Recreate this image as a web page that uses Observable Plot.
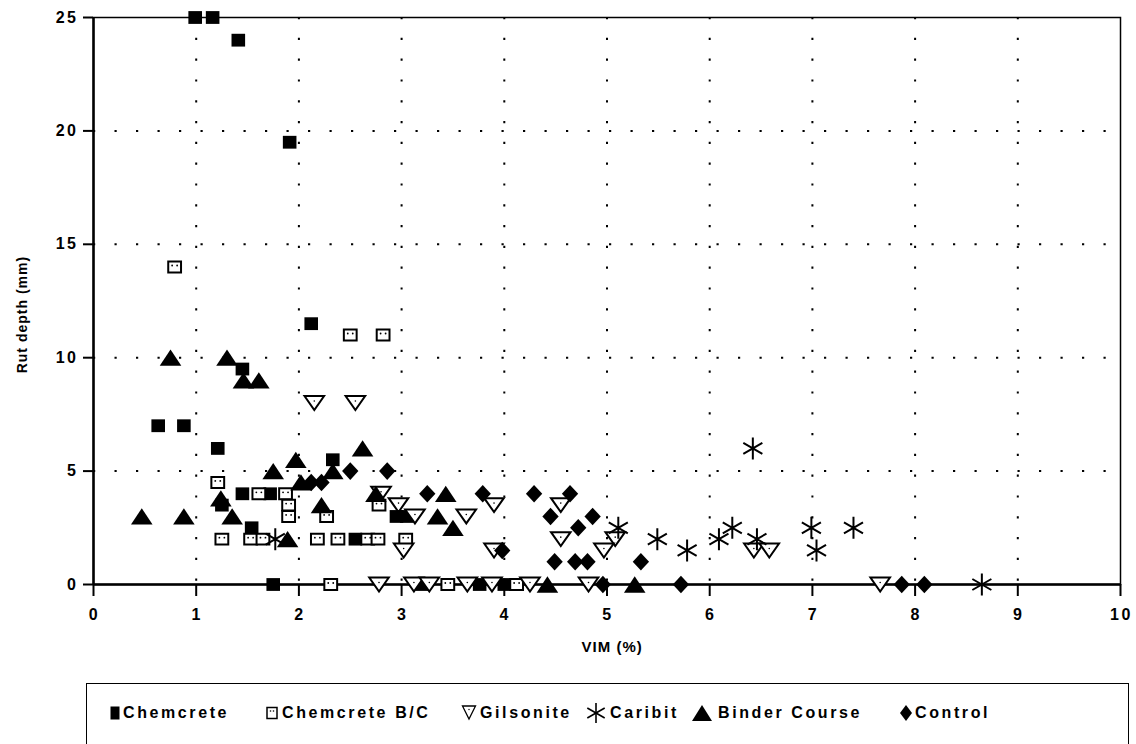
<!DOCTYPE html>
<html>
<head>
<meta charset="utf-8">
<script src="https://cdn.jsdelivr.net/npm/d3@7"></script>
<script src="https://cdn.jsdelivr.net/npm/@observablehq/plot@0.6"></script>
<style>
  html, body { margin: 0; padding: 0; background: #fff; }
  body { width: 1136px; height: 744px; position: relative; overflow: hidden; font-family: "Liberation Sans", Arial, sans-serif; }
  #chart { position: absolute; left: 0; top: 0; }
  #chart svg text { font-weight: bold; }
  #chart .ticklab text { letter-spacing: 2.5px; }
  #chart .axtitle text { letter-spacing: 1px; }
  #legend { position: absolute; left: 86px; top: 683px; width: 1043px; height: 64px; border: 1.5px solid #000; box-sizing: border-box; }
  .icon { position: absolute; top: 0; height: 58px; display: flex; align-items: center; }
  .label { position: absolute; top: 0; height: 58px; display: flex; align-items: center; font-weight: bold; font-size: 16px; letter-spacing: 2.6px; color: #000; white-space: nowrap; }
  .icon svg { display: block; }
</style>
</head>
<body>
<div id="chart"></div>
<div id="legend"></div>
<script>
// ---- Data ----
const seriesNames = ["Chemcrete", "Chemcrete B/C", "Gilsonite", "Caribit", "Binder Course", "Control"];

const chemcreteX = [0.99, 1.16, 1.41, 1.91, 2.12, 1.45, 0.63, 0.88, 1.21, 2.33, 1.45, 1.72, 1.25, 1.54, 2.55, 2.95, 3.05, 1.75, 3.2, 3.76, 4.0];
const chemcreteY = [25, 25, 24, 19.5, 11.5, 9.5, 7, 7, 6, 5.5, 4, 4, 3.5, 2.5, 2, 3, 3, 0, 0, 0, 0];

const chemcreteBCX = [0.79, 2.5, 2.82, 1.21, 1.61, 1.87, 1.9, 1.9, 2.27, 2.78, 1.25, 1.53, 1.65, 2.18, 2.38, 2.67, 2.77, 3.04, 2.31, 3.45, 4.12];
const chemcreteBCY = [14, 11, 11, 4.5, 4, 4, 3.5, 3, 3, 3.5, 2, 2, 2, 2, 2, 2, 2, 2, 0, 0, 0];

const gilsoniteX = [2.15, 2.55, 2.8, 2.97, 3.13, 3.63, 3.9, 4.55, 4.55, 5.08, 3.02, 3.9, 4.97, 6.43, 6.58, 2.78, 3.12, 3.27, 3.64, 3.88, 4.25, 4.82, 7.66];
const gilsoniteY = [8, 8, 4, 3.5, 3, 3, 3.5, 3.5, 2, 2, 1.5, 1.5, 1.5, 1.5, 1.5, 0, 0, 0, 0, 0, 0, 0, 0];

const caribitX = [6.42, 1.77, 5.11, 5.49, 5.78, 6.09, 6.22, 6.46, 6.99, 7.04, 7.4, 8.65];
const caribitY = [6, 2, 2.5, 2, 1.5, 2, 2.5, 2, 2.5, 1.5, 2.5, 0];

const binderX = [0.75, 1.3, 1.46, 1.61, 0.47, 0.88, 1.24, 1.35, 1.75, 1.97, 2.33, 2.62, 2.02, 2.22, 1.89, 2.75, 3.43, 3.35, 3.5, 4.42, 5.27];
const binderY = [10, 10, 9, 9, 3, 3, 3.8, 3, 5, 5.5, 5, 6, 4.5, 3.5, 2, 4, 4, 3, 2.5, 0, 0];

const controlX = [2.12, 2.22, 2.5, 2.86, 3.25, 3.79, 4.29, 4.64, 4.45, 4.86, 4.72, 3.98, 4.49, 4.69, 4.81, 5.33, 4.96, 5.72, 7.87, 8.09];
const controlY = [4.5, 4.5, 5, 5, 4, 4, 4, 4, 3, 3, 2.5, 1.5, 1, 1, 1, 1, 0, 0, 0, 0];

const xTicks = [0, 1, 2, 3, 4, 5, 6, 7, 8, 9, 10];
const yTicks = [0, 5, 10, 15, 20, 25];
const xLabel = "VIM (%)";
const yLabel = "Rut depth (mm)";

// ---- Build rows ----
function rows(xs, ys, s) { return xs.map((x, i) => ({x, y: ys[i], series: s})); }
const dChem = rows(chemcreteX, chemcreteY, seriesNames[0]);
const dBC = rows(chemcreteBCX, chemcreteBCY, seriesNames[1]);
const dGil = rows(gilsoniteX, gilsoniteY, seriesNames[2]);
const dCar = rows(caribitX, caribitY, seriesNames[3]);
const dBin = rows(binderX, binderY, seriesNames[4]);
const dCon = rows(controlX, controlY, seriesNames[5]);

// ---- Custom symbols (shape scaled by r) ----
const k = s => Math.sqrt(s / Math.PI);
const symSquare = { draw(c, s) { const r = k(s); const w = 0.85 * r, h = 0.8 * r; c.moveTo(-w, -h); c.lineTo(w, -h); c.lineTo(w, h); c.lineTo(-w, h); c.closePath(); } };
const symOpenSquare = { draw(c, s) { const r = k(s); const w = 0.8 * r, h = 0.68 * r; c.moveTo(-w, -h); c.lineTo(w, -h); c.lineTo(w, h); c.lineTo(-w, h); c.closePath(); } };
const symTriDown = { draw(c, s) { const r = k(s); const w = 1.15 * r, h = 0.82 * r; c.moveTo(-w, -h); c.lineTo(w, -h); c.lineTo(0, h); c.closePath(); } };
const symTriUp = { draw(c, s) { const r = k(s); const w = 1.3 * r, h = 0.98 * r; c.moveTo(0, -h); c.lineTo(w, h); c.lineTo(-w, h); c.closePath(); } };
const symDiamond = { draw(c, s) { const r = k(s); const w = 1.02 * r, h = 1.1 * r; c.moveTo(0, -h); c.lineTo(w, 0); c.lineTo(0, h); c.lineTo(-w, 0); c.closePath(); } };
const symStar = { draw(c, s) { const r = k(s); const a = 1.1 * r;
  c.moveTo(0, -a); c.lineTo(0, a);
  const dx = a * Math.cos(Math.PI / 6), dy = a * Math.sin(Math.PI / 6);
  c.moveTo(-dx, -dy); c.lineTo(dx, dy);
  c.moveTo(-dx, dy); c.lineTo(dx, -dy);
} };

const font = "'Liberation Sans', Arial, sans-serif";

const plot = Plot.plot({
  width: 1136,
  height: 670,
  marginLeft: 93,
  marginRight: 16,
  marginTop: 17,
  marginBottom: 86,
  style: { fontFamily: font, background: "#fff", color: "#000", overflow: "visible" },
  x: { domain: [0, 10] },
  y: { domain: [0, 25] },
  marks: [
    // dotted grid
    Plot.ruleX(xTicks.filter(t => t > 0 && t < 10), { stroke: "#000", strokeWidth: 2, strokeDasharray: "2.2,18.6" }),
    Plot.ruleY(yTicks.filter(t => t > 0 && t < 25), { stroke: "#000", strokeWidth: 2, strokeDasharray: "2.2,19.3" }),
    // frame + axes lines
    Plot.frame({ stroke: "#000", strokeWidth: 1.5 }),
    Plot.ruleX([0], { stroke: "#000", strokeWidth: 2.5 }),
    Plot.ruleY([0], { stroke: "#000", strokeWidth: 2.5 }),
    // tick marks (labels drawn below as text marks)
    Plot.axisX(xTicks, { tickSize: 12, tickFormat: () => "", label: null, strokeWidth: 2 }),
    Plot.axisY(yTicks, { tickSize: 10, tickFormat: () => "", label: null, strokeWidth: 2 }),
    Plot.text(xTicks, { x: d => d, y: () => 0, text: d => String(d), dy: 30, dx: 1, fontSize: 16, fill: "#000", className: "ticklab" }),
    Plot.text(yTicks, { x: () => 0, y: d => d, text: d => String(d), dx: -15, textAnchor: "end", fontSize: 16, fill: "#000", className: "ticklab" }),
    // axis titles (placed in data coordinates outside the frame)
    Plot.text([yLabel], { x: () => -0.69, y: () => 11.9, rotate: -90, fontSize: 14, fill: "#000", className: "axtitle" }),
    Plot.text([xLabel], { x: () => 5.05, y: () => -2.78, fontSize: 15, fill: "#000", className: "axtitle" }),
    // series
    Plot.dot(dChem, { x: "x", y: "y", symbol: symSquare, r: 8, fill: "#000", stroke: "none" }),
    Plot.dot(dBC, { x: "x", y: "y", symbol: symOpenSquare, r: 8, fill: "#fff", stroke: "#000", strokeWidth: 2 }),
    Plot.dot(dBC, { x: "x", y: "y", r: 0.9, dx: -2.5, dy: -1.5, fill: "#000", stroke: "none" }),
    Plot.dot(dBC, { x: "x", y: "y", r: 0.9, dx: 2.5, dy: -1.5, fill: "#000", stroke: "none" }),
    Plot.dot(dGil, { x: "x", y: "y", symbol: symTriDown, r: 8.5, fill: "#fff", stroke: "#000", strokeWidth: 2 }),
    Plot.dot(dGil, { x: "x", y: "y", r: 0.8, dy: -2, fill: "#000", stroke: "none" }),
    Plot.dot(dCar, { x: "x", y: "y", symbol: symStar, r: 10, fill: "none", stroke: "#000", strokeWidth: 2 }),
    Plot.dot(dBin, { x: "x", y: "y", symbol: symTriUp, r: 8.3, fill: "#000", stroke: "none" }),
    Plot.dot(dCon, { x: "x", y: "y", symbol: symDiamond, r: 8, fill: "#000", stroke: "none" })
  ]
});
document.getElementById("chart").appendChild(plot);

// ---- Legend ----
const legendIcons = [
  '<svg width="12" height="16"><rect x="1.5" y="1.5" width="9" height="13" fill="#000"/></svg>',
  '<svg width="14" height="16"><rect x="2" y="2.5" width="10" height="11" fill="#fff" stroke="#000" stroke-width="1.5"/><circle cx="5.5" cy="6" r="0.8"/><circle cx="8.5" cy="6" r="0.8"/></svg>',
  '<svg width="16" height="18"><path d="M1.5,2 L14.5,2 L8,15 Z" fill="#fff" stroke="#000" stroke-width="1.3"/><circle cx="8" cy="5.5" r="0.7"/></svg>',
  '<svg width="22" height="22"><g stroke="#000" stroke-width="1.6"><line x1="11" y1="1" x2="11" y2="21"/><line x1="2.3" y1="6" x2="19.7" y2="16"/><line x1="2.3" y1="16" x2="19.7" y2="6"/></g></svg>',
  '<svg width="22" height="18"><path d="M11,1 L21,17 L1,17 Z" fill="#000"/></svg>',
  '<svg width="14" height="18"><path d="M7,1 L13,9 L7,17 L1,9 Z" fill="#000"/></svg>'
];
const iconLeft = [108, 264, 460, 584, 690, 898];   // page x of each icon
const textLeft = [122, 281, 479, 609, 717, 914];   // page x of each label
const legendBoxLeft = 86;
const legend = document.getElementById("legend");
seriesNames.forEach((name, i) => {
  const ic = document.createElement("div");
  ic.className = "icon";
  ic.style.left = (iconLeft[i] - legendBoxLeft) + "px";
  ic.innerHTML = legendIcons[i];
  legend.appendChild(ic);
  const tx = document.createElement("div");
  tx.className = "label";
  tx.style.left = (textLeft[i] - legendBoxLeft) + "px";
  tx.textContent = name;
  legend.appendChild(tx);
});
</script>
</body>
</html>
